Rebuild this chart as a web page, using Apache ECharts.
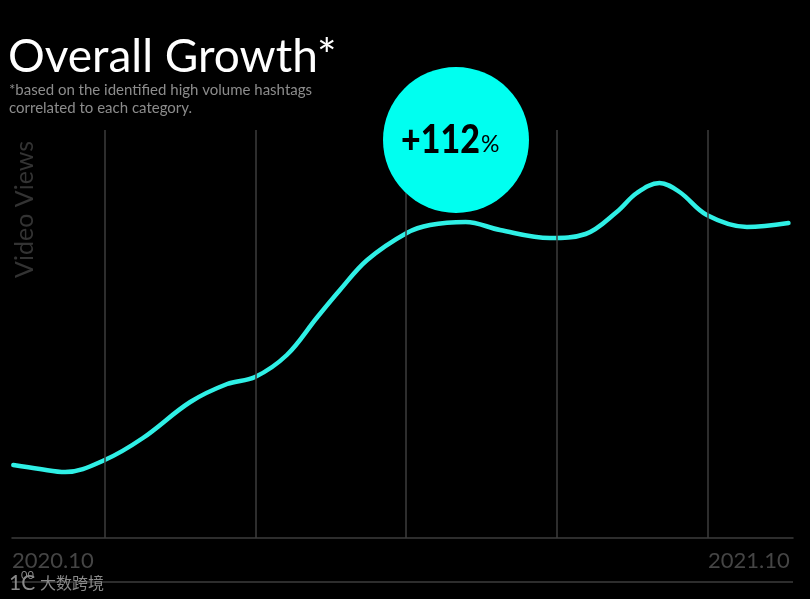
<!DOCTYPE html>
<html>
<head>
<meta charset="utf-8">
<style>
  html, body { margin: 0; padding: 0; background: #000; }
  #chart { width: 810px; height: 599px; }
</style>
<script src="https://cdn.jsdelivr.net/npm/echarts@6/dist/echarts.min.js"></script>
</head>
<body>
<div id="chart"></div>
<script>
// months since 2020.10 and an index (no scale is printed)
var months = [0.02, 0.43, 0.82, 1.43, 2.02, 2.75, 3.32, 3.75, 4.24, 4.70, 5.06, 5.48, 6.09, 6.45, 7.00, 7.53, 8.30, 8.85, 9.33, 9.64, 9.99, 10.30, 10.72, 11.34, 11.98];
var views = [73, 69, 66, 78, 100, 136, 154, 161, 183, 220, 248, 278, 305, 313, 316, 308, 300, 304, 326, 345, 355, 346, 323, 311, 315];
var gridMonths = [1.43, 3.76, 6.08, 8.41, 10.74];
var tickLabels = ['2020.10', '2021.10'];

var lineColor = '#2ff0e6';
var circleColor = '#00fff0';
var ruleColor = '#3c3c3c';
var fontName = 'Lato';

var chart = echarts.init(document.getElementById('chart'), null, { renderer: 'canvas' });
chart.setOption({
    backgroundColor: '#000',
    animation: false,
    textStyle: { fontFamily: fontName },
    grid: { left: 12, right: 17, top: 130, bottom: 61 },
    xAxis: {
        type: 'value',
        min: 0,
        max: 12.05,
        splitLine: { show: false },
        axisTick: { show: false },
        axisLine: { show: true, onZero: false, lineStyle: { color: ruleColor, width: 1.5 } },
        axisLabel: {
            customValues: [0, 12],
            alignMinLabel: 'left',
            alignMaxLabel: 'right',
            margin: 12,
            fontSize: 22,
            color: '#454545',
            fontFamily: fontName,
            formatter: function (value) {
                return value === 0 ? tickLabels[0] : tickLabels[1];
            }
        }
    },
    yAxis: {
        type: 'value',
        min: 0,
        max: 408,
        show: false
    },
    series: [{
        type: 'line',
        data: months.map(function (m, i) { return [m, views[i]]; }),
        smooth: 0.36,
        showSymbol: false,
        lineStyle: { color: lineColor, width: 4.5, cap: 'round' },
        markLine: {
            silent: true,
            symbol: 'none',
            label: { show: false },
            lineStyle: { color: ruleColor, width: 1.5, type: 'solid' },
            data: gridMonths.map(function (m) { return { xAxis: m }; })
        },
        z: 3
    }],
    graphic: [
        { type: 'text', x: 8, y: 34, style: { text: 'Overall Growth*', fill: '#fff', font: '46px ' + fontName } },
        { type: 'text', x: 9, y: 81, style: { text: '*based on the identified high volume hashtags\ncorrelated to each category.', fill: '#8c8c8c', font: '15px ' + fontName, lineHeight: 18 } },
        { type: 'text', x: 12, y: 278, rotation: Math.PI / 2, style: { text: 'Video Views', fill: '#333', font: '25px ' + fontName } },
        { type: 'circle', shape: { cx: 456, cy: 140, r: 73 }, style: { fill: circleColor }, z: 10 },
        { type: 'text', x: 401, y: 120, scaleX: 0.85, z: 11, style: { text: '+112', fill: '#000', font: '900 40px ' + fontName } },
        { type: 'text', x: 481, y: 133, z: 11, style: { text: '%', fill: '#000', font: '23px ' + fontName } },
        { type: 'line', shape: { x1: 12, y1: 582, x2: 793, y2: 582 }, style: { stroke: ruleColor, lineWidth: 1.5 } },
        { type: 'text', x: 9, y: 573, z: 11, style: { text: '1C', fill: '#8a8a8a', font: '21px ' + fontName } },
        { type: 'text', x: 21, y: 570, z: 12, style: { text: '00', fill: '#8a8a8a', font: '11px ' + fontName } },
        { type: 'text', x: 40, y: 575, z: 11, style: { text: '大数跨境', fill: '#8a8a8a', font: '16px "Noto Sans CJK SC"' } }
    ]
});
</script>
</body>
</html>
